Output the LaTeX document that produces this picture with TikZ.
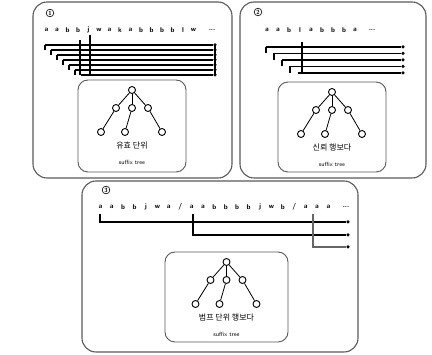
\documentclass[tikz,border=0pt]{standalone}
\usepackage{fontspec}
\newfontfamily\kr{Noto Sans CJK KR}
\begin{document}
\begin{tikzpicture}[x=1pt,y=-1pt,
  panel/.style={draw=black!65,line width=1.1pt,rounded corners=14pt},
  inbox/.style={draw=black!65,line width=0.9pt,rounded corners=10pt},
  tn/.style={circle,draw,line width=0.9pt,minimum size=7pt,inner sep=0pt},
  ch/.style={font=\sffamily\bfseries\fontsize{7}{7}\selectfont,inner sep=0pt},
  lbl/.style={font=\kr\fontsize{8}{9}\selectfont,inner sep=0pt},
  sub/.style={font=\sffamily\fontsize{6}{6}\selectfont,inner sep=0pt},
  num/.style={circle,draw,line width=0.6pt,inner sep=0.8pt,font=\sffamily\bfseries\fontsize{6}{6}\selectfont},
  ln/.style={line width=1.2pt},
  dot/.style={circle,fill,inner sep=0pt,minimum size=3.5pt}]
\useasboundingbox (0,0) rectangle (432,355);
% panels
\draw[panel] (33,2) rectangle (232,178);
\draw[panel] (240,2) rectangle (426,178);
\draw[panel] (82,181) rectangle (358,352);
\node[num] (n1) at (50,13) {1};
\node[num] (n2) at (258,12) {2};
\node[num] (n3) at (106,190) {3};
% panel 1 characters
\foreach \c [count=\i] in {a,a,b,b,j,w,a,k,a,b,b,b,b,l,w}
  \node[ch] (pa\i) at ({36+10.5*\i},30) {\c};
\node[ch] (pa16) at (212,30) {...};
\foreach \i in {0,...,6}{
  \coordinate (s\i) at ({45+6*\i},{45+5*\i});
  \node[dot] (e\i) at (215,{45+5*\i}) {};
  \draw[ln] (s\i) -- (e\i);
}
\foreach \i in {0,...,5}{ \pgfmathtruncatemacro\j{\i+1}
  \draw[ln] (s\i) -- (s\i |- s\j); }
\draw[ln] (80,40) -- (80,75);
\draw[ln] (90,35) -- (90,75);
\draw[ln] (215,44) -- (215,76);
% panel 2 characters
\foreach \c [count=\i] in {a,a,b,l,a,b,b,b,a}
  \node[ch] (pb\i) at ({256+11*\i},30) {\c};
\node[ch] (pb10) at (372,30) {...};
\foreach \i in {0,...,4}{
  \coordinate (t\i) at ({266+8*\i},{47+6.5*\i});
  \node[dot] (f\i) at (403,{47+6.5*\i}) {};
  \draw[ln] (t\i) -- (f\i);
}
\foreach \i in {0,...,3}{ \pgfmathtruncatemacro\j{\i+1}
  \draw[ln] (t\i) -- (t\i |- t\j); }
\draw[ln] (302,42) -- (302,74);
% panel 3 characters
\foreach \c [count=\i] in {a,a,b,b,j,w,a,/,a,a,b,b,b,b,j,w,b,/,a,a,a}
  \node[ch] (pc\i) at ({89+11.4*\i},207) {\c};
\node[ch] (pc22) at (346,207) {...};
\coordinate (u0) at (100,214);
\coordinate (u1) at (193,214);
\coordinate (u2) at (313,214);
\node[dot] (g0) at (348,222) {};
\node[dot] (g1) at (348,235) {};
\node[dot] (g2) at (348,247) {};
\draw[ln] (u0) |- (g0);
\draw[ln] (u1) |- (g1);
\draw[ln,black!60,line width=1.8pt] (u2) |- (g2);
% inner boxes with trees
\foreach \name/\x/\y/\w/\h/\t/\s in {A/78/80/108/92/{유효 단위}/{suffix tree},
                                   B/278/82/108/90/{신뢰 행보다}/{suffix tree},
                                   C/165/252/123/90/{범프 단위 행보다}/{suffix tree}}{
  \draw[inbox] (\x,\y) rectangle ({\x+\w},{\y+\h});
  \pgfmathsetmacro\cx{\x+\w/2}
  \node[tn] (\name r) at (\cx,{\y+10}) {};
  \node[tn] (\name a) at ({\cx-16},{\y+28}) {};
  \node[tn] (\name b) at (\cx,{\y+28}) {};
  \node[tn] (\name c) at ({\cx+16},{\y+28}) {};
  \node[tn] (\name d) at ({\cx-31},{\y+52}) {};
  \node[tn] (\name e) at ({\cx-7},{\y+52}) {};
  \node[tn] (\name f) at ({\cx+30},{\y+52}) {};
  \draw[line width=0.8pt] (\name r) -- (\name a);
  \draw[line width=0.8pt] (\name r) -- (\name b);
  \draw[line width=0.8pt] (\name r) -- (\name c);
  \draw[line width=0.8pt] (\name a) -- (\name d);
  \draw[line width=0.8pt] (\name b) -- (\name e);
  \draw[line width=0.8pt] (\name c) -- (\name f);
  \node[lbl] (\name l) at (\cx,{\y+66}) {\t};
  \node[sub] (\name s) at (\cx,{\y+82}) {\s};
}
\end{tikzpicture}
\end{document}
